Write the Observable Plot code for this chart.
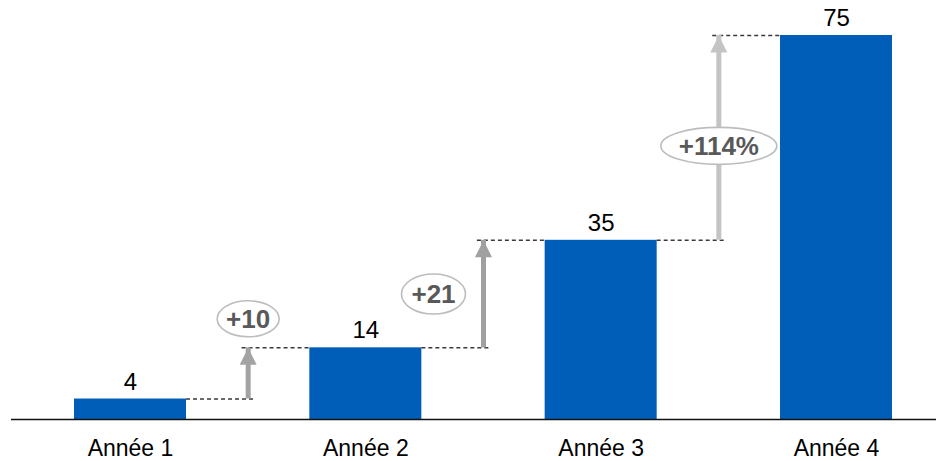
<!DOCTYPE html>
<html>
<head>
<meta charset="utf-8">
<script src="https://cdn.jsdelivr.net/npm/d3@7"></script>
<script src="https://cdn.jsdelivr.net/npm/@observablehq/plot@0.6"></script>
<style>
  html, body { margin: 0; padding: 0; background: #fff; }
  svg { display: block; }
</style>
</head>
<body>
<div id="chart"></div>
<script>
// ---- Data ----
const categories = ["Année 1", "Année 2", "Année 3", "Année 4"];
const values = [4, 14, 35, 75];
const changeLabels = ["+10", "+21", "+114%"];

// ---- Derived tables ----
const bars = categories.map((c, i) => ({pos: i + 1, category: c, value: values[i]}));
const steps = changeLabels.map((label, i) => ({
  pos: i + 1.5, from: values[i], to: values[i + 1], label
}));

// ---- Styles ----
const BLUE = "#005EB8";
const arrowColors = ["#a3a3a3", "#a0a0a0", "#c4c4c4"];
const halfBar = 0.238;      // half bar width in x units
const dashOver = 0.026;     // dashed line overshoot past the arrow
const font = "'Liberation Sans', Arial, Helvetica, sans-serif";

function ellipseSymbol(rx, ry) {
  const k = 0.5523;
  return {
    draw(ctx) {
      ctx.moveTo(rx, 0);
      ctx.bezierCurveTo(rx, ry * k, rx * k, ry, 0, ry);
      ctx.bezierCurveTo(-rx * k, ry, -rx, ry * k, -rx, 0);
      ctx.bezierCurveTo(-rx, -ry * k, -rx * k, -ry, 0, -ry);
      ctx.bezierCurveTo(rx * k, -ry, rx, -ry * k, rx, 0);
      ctx.closePath();
    }
  };
}
const arrowHead = {
  draw(ctx) {
    ctx.moveTo(0, 0);
    ctx.lineTo(8.5, 17);
    ctx.lineTo(-8.5, 17);
    ctx.closePath();
  }
};

// label placement per step
const labelPlacement = [
  {dx: 0, dy: -29, y: d => d.to, rx: 31, ry: 18},
  {dx: -50, dy: 0, y: d => (d.from + d.to) / 2, rx: 32, ry: 20},
  {dx: 0, dy: 8, y: d => (d.from + d.to) / 2, rx: 58, ry: 18.5}
];

const labelMarks = steps.flatMap((s, i) => {
  const p = labelPlacement[i];
  return [
    Plot.dot([s], {x: "pos", y: p.y, dx: p.dx, dy: p.dy, symbol: ellipseSymbol(p.rx, p.ry),
      fill: "#fff", stroke: "#bdbdbd", strokeWidth: 1.6}),
    Plot.text([s], {x: "pos", y: p.y, dx: p.dx, dy: p.dy + 1, text: "label",
      fontSize: 26, fontWeight: "bold", fill: "#595959", fontFamily: font})
  ];
});

const chart = Plot.plot({
  width: 936,
  height: 461,
  marginLeft: 11,
  marginRight: 0,
  marginTop: 35,
  marginBottom: 42,
  style: {fontFamily: font, fontSize: "23px", color: "#000", background: "#fff"},
  x: {type: "linear", domain: [1, 4], range: [130, 836]},
  y: {domain: [0, 75], axis: null},
  color: {type: "identity"},
  marks: [
    Plot.rectY(bars, {x1: d => d.pos - halfBar, x2: d => d.pos + halfBar, y: "value", fill: BLUE}),
    // dashed connector lines
    Plot.ruleY(steps, {y: "from", x1: d => d.pos - 0.5 + halfBar, x2: d => d.pos + dashOver,
      stroke: "#3a3a3a", strokeWidth: 1.4, strokeDasharray: "4,3"}),
    Plot.ruleY(steps, {y: "to", x1: d => d.pos - dashOver, x2: d => d.pos + 0.5 - halfBar,
      stroke: "#3a3a3a", strokeWidth: 1.4, strokeDasharray: "4,3"}),
    // arrows
    Plot.ruleX(steps, {x: "pos", y1: "from", y2: "to", stroke: (d, i) => arrowColors[i], strokeWidth: 5}),
    Plot.dot(steps, {x: "pos", y: "to", symbol: arrowHead, fill: (d, i) => arrowColors[i], stroke: "none"}),
    ...labelMarks,
    // baseline
    Plot.ruleY([0], {stroke: "#111", strokeWidth: 1.6}),
    // value labels
    Plot.text(bars, {x: "pos", y: "value", text: d => String(d.value), dy: -9.5, lineAnchor: "bottom",
      fontSize: 24, fill: "#000"}),
    // category axis
    Plot.axisX({ticks: [1, 2, 3, 4], tickFormat: d => categories[d - 1], tickSize: 0, tickPadding: 20.5,
      fontSize: 23, label: null})
  ]
});
document.getElementById("chart").appendChild(chart);
</script>
</body>
</html>
